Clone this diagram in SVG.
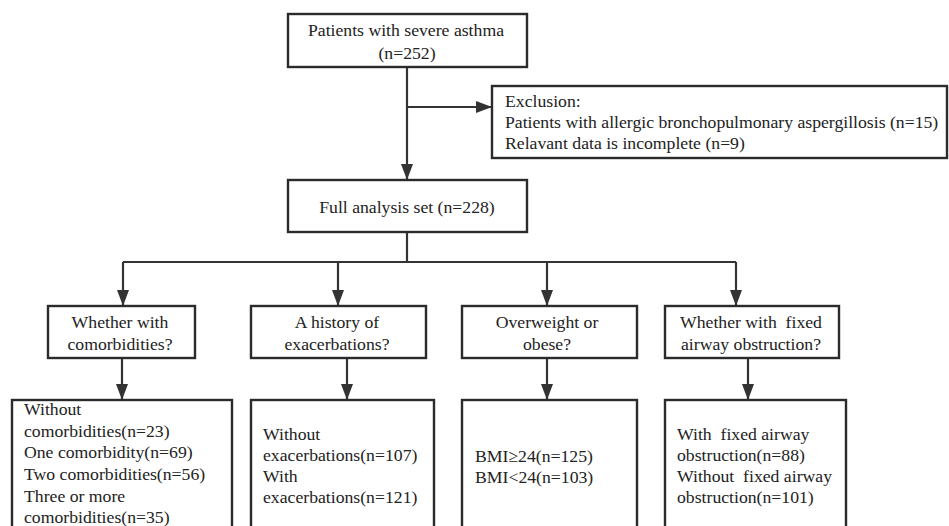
<svg xmlns="http://www.w3.org/2000/svg" width="949" height="526" viewBox="0 0 949 526">
<style>
.box{fill:#fff;stroke:#2b2b2b;stroke-width:2.4}
.ln{fill:none;stroke:#333;stroke-width:2.2}
text{font-family:"Liberation Serif","Times New Roman",serif;font-size:17.7px;fill:#222;white-space:pre}
.c{text-anchor:middle}
</style>
<defs>
<marker id="ah" viewBox="0 0 16 12" refX="16" refY="6" markerWidth="16" markerHeight="12" markerUnits="userSpaceOnUse" orient="auto">
<path d="M0,0 L16,6 L0,12 Z" fill="#333"/>
</marker>
</defs>
<rect width="949" height="526" fill="#fff"/>
<g id="connectors">
<path class="ln" d="M407,67 V180" marker-end="url(#ah)"/>
<path class="ln" d="M407,107 H492" marker-end="url(#ah)"/>
<path class="ln" d="M407,232 V262"/>
<path class="ln" d="M123,262 H736"/>
<path class="ln" d="M123,262 V306" marker-end="url(#ah)"/>
<path class="ln" d="M338,262 V306" marker-end="url(#ah)"/>
<path class="ln" d="M547,262 V306" marker-end="url(#ah)"/>
<path class="ln" d="M736,262 V306" marker-end="url(#ah)"/>
<path class="ln" d="M122,358 V400" marker-end="url(#ah)"/>
<path class="ln" d="M347,358 V400" marker-end="url(#ah)"/>
<path class="ln" d="M547,358 V400" marker-end="url(#ah)"/>
<path class="ln" d="M748,358 V400" marker-end="url(#ah)"/>
</g>
<g id="n-top">
<rect class="box" x="288" y="14" width="239" height="53"/>
<text class="c" x="406" y="36">Patients with severe asthma</text>
<text class="c" x="407" y="59">(n=252)</text>
</g>
<g id="n-exclusion">
<rect class="box" x="492" y="86" width="455" height="72"/>
<text x="505" y="107">Exclusion:</text>
<text x="505" y="128">Patients with allergic bronchopulmonary aspergillosis (n=15)</text>
<text x="505" y="149">Relavant data is incomplete (n=9)</text>
</g>
<g id="n-full">
<rect class="box" x="288" y="180" width="239" height="52"/>
<text class="c" x="407" y="213">Full analysis set (n=228)</text>
</g>
<g id="n-q1">
<rect class="box" x="48" y="306" width="147" height="52"/>
<text class="c" x="120" y="328">Whether with</text>
<text class="c" x="120" y="350">comorbidities?</text>
</g>
<g id="n-q2">
<rect class="box" x="251" y="306" width="175" height="52"/>
<text class="c" x="337" y="328">A history of</text>
<text class="c" x="337" y="350">exacerbations?</text>
</g>
<g id="n-q3">
<rect class="box" x="462" y="306" width="175" height="52"/>
<text class="c" x="547" y="328">Overweight or</text>
<text class="c" x="547" y="350">obese?</text>
</g>
<g id="n-q4">
<rect class="box" x="665" y="306" width="174" height="52"/>
<text class="c" x="751" y="328">Whether with  fixed</text>
<text class="c" x="751" y="350">airway obstruction?</text>
</g>
<g id="n-r1">
<rect class="box" x="12" y="400" width="220" height="140"/>
<text x="24" y="415">Without</text>
<text x="24" y="437">comorbidities(n=23)</text>
<text x="24" y="458">One comorbidity(n=69)</text>
<text x="24" y="480">Two comorbidities(n=56)</text>
<text x="24" y="502">Three or more</text>
<text x="24" y="523">comorbidities(n=35)</text>
</g>
<g id="n-r2">
<rect class="box" x="251" y="400" width="183" height="140"/>
<text x="263" y="440">Without</text>
<text x="263" y="461">exacerbations(n=107)</text>
<text x="263" y="482">With</text>
<text x="263" y="503">exacerbations(n=121)</text>
</g>
<g id="n-r3">
<rect class="box" x="462" y="400" width="175" height="140"/>
<text x="475" y="462">BMI≥24(n=125)</text>
<text x="475" y="483">BMI&lt;24(n=103)</text>
</g>
<g id="n-r4">
<rect class="box" x="665" y="400" width="181" height="140"/>
<text x="677" y="440">With  fixed airway</text>
<text x="677" y="461">obstruction(n=88)</text>
<text x="677" y="482">Without  fixed airway</text>
<text x="677" y="503">obstruction(n=101)</text>
</g>
</svg>
